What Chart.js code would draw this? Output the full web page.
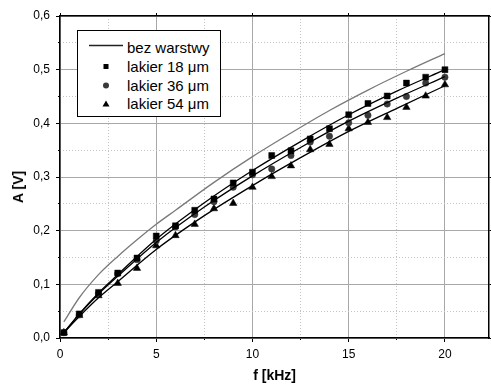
<!DOCTYPE html>
<html>
<head>
<meta charset="utf-8">
<script src="https://cdn.jsdelivr.net/npm/chart.js@4.4.0/dist/chart.umd.min.js"></script>
<style>
  body { margin: 0; background: #fff; }
  #wrap { position: relative; width: 491px; height: 388px; overflow: hidden; }
  .ytitle {
    position: absolute; left: 18px; top: 187px;
    transform: translate(-50%, -50%) rotate(-90deg);
    font: bold 14px "Liberation Sans", Arial, sans-serif; white-space: nowrap;
  }
  .legend {
    position: absolute; left: 77px; top: 30px; width: 142px; height: 85px;
    border: 1px solid #000; background: #fff;
    font: 15px "Liberation Sans", Arial, sans-serif;
  }
  .row { position: absolute; left: 0; width: 142px; height: 19px; line-height: 19px; }
  .row svg { position: absolute; left: 0; top: 0; }
  .row span { position: absolute; left: 49px; top: 0; white-space: nowrap; }
</style>
</head>
<body>
<div id="wrap">
  <!-- canvas a bit wider than the frame so the right axis sits on the edge -->
  <canvas id="chart" width="494" height="388"></canvas>
  <div class="ytitle">A [V]</div>
  <!-- legenda -->
  <div class="legend">
    <div class="row" style="top:7px">
      <svg width="48" height="19"><line x1="11" y1="7.5" x2="45" y2="7.5" stroke="#222" stroke-width="1.3"/></svg>
      <span>bez warstwy</span>
    </div>
    <div class="row" style="top:26px">
      <svg width="48" height="19"><rect x="25.5" y="7" width="5" height="5" fill="#000"/></svg>
      <span>lakier 18 μm</span>
    </div>
    <div class="row" style="top:45px">
      <svg width="48" height="19"><circle cx="28" cy="9.5" r="3" fill="#3a3a3a"/></svg>
      <span>lakier 36 μm</span>
    </div>
    <div class="row" style="top:63px">
      <svg width="48" height="19"><polygon points="28,6.5 31.5,12.5 24.5,12.5" fill="#000"/></svg>
      <span>lakier 54 μm</span>
    </div>
  </div>
</div>

<script>
// pomiary
const freq = [0.2, 1, 2, 3, 4, 5, 6, 7, 8, 9, 10, 11, 12, 13, 14, 15, 16, 17, 18, 19, 20];
const lakier18 = [0.01, 0.045, 0.085, 0.121, 0.149, 0.19, 0.209, 0.238, 0.259, 0.289, 0.309, 0.34, 0.349, 0.371, 0.39, 0.416, 0.437, 0.451, 0.475, 0.486, 0.5];
const lakier36 = [0.01, 0.043, 0.083, 0.12, 0.146, 0.181, 0.207, 0.23, 0.254, 0.281, 0.304, 0.315, 0.34, 0.365, 0.376, 0.401, 0.415, 0.436, 0.45, 0.475, 0.486];
const lakier54 = [0.01, 0.042, 0.079, 0.102, 0.13, 0.172, 0.191, 0.212, 0.241, 0.251, 0.281, 0.301, 0.321, 0.351, 0.361, 0.39, 0.402, 0.411, 0.43, 0.451, 0.472];

// krzywe dopasowania
const fitFreq = [0.2, 1, 2, 3, 5, 7.5, 10, 12.5, 15, 17.5, 20];
const fit18 = [0.01, 0.045, 0.084, 0.118, 0.184, 0.252, 0.312, 0.366, 0.416, 0.46, 0.5];
const fit36 = [0.01, 0.044, 0.082, 0.115, 0.178, 0.244, 0.302, 0.355, 0.404, 0.447, 0.487];
const fit54 = [0.01, 0.04, 0.075, 0.105, 0.165, 0.228, 0.284, 0.336, 0.385, 0.428, 0.47];

// bez warstwy
const bezFreq = [0.2, 1, 2, 3, 4, 5, 6, 8, 10, 12, 14, 16, 18, 20];
const bezWarstwy = [0.03, 0.075, 0.118, 0.152, 0.183, 0.212, 0.238, 0.29, 0.338, 0.382, 0.424, 0.462, 0.497, 0.53];

// osie
const xMax = 22.3;
const xMajorTicks = [0, 5, 10, 15, 20];
const xMinorTicks = [2.5, 7.5, 12.5, 17.5];
const yMajorTicks = [0, 0.1, 0.2, 0.3, 0.4, 0.5, 0.6];
const yMinorTicks = [0.05, 0.15, 0.25, 0.35, 0.45, 0.55];

const FONT = "'Liberation Sans', Arial, sans-serif";

function pts(xs, ys) {
  return xs.map((x, i) => ({ x: x, y: ys[i] }));
}

function fixTicks(list) {
  return (scale) => { scale.ticks = list.map(v => ({ value: v })); };
}

const fitLine = (data) => ({
  type: 'line', data: data, borderColor: '#000', borderWidth: 1.3,
  pointRadius: 0, cubicInterpolationMode: 'monotone', fill: false
});

const markers = (data, style, radius, color) => ({
  type: 'line', data: data, showLine: false, pointStyle: style,
  pointRadius: radius, pointBackgroundColor: color, pointBorderColor: color,
  pointBorderWidth: 0.5
});

new Chart(document.getElementById('chart'), {
  type: 'line',
  data: {
    datasets: [
      {
        label: 'bez warstwy', data: pts(bezFreq, bezWarstwy), borderColor: '#7a7a7a',
        borderWidth: 1.3, pointRadius: 0, cubicInterpolationMode: 'monotone', fill: false
      },
      fitLine(pts(fitFreq, fit18)),
      fitLine(pts(fitFreq, fit36)),
      fitLine(pts(fitFreq, fit54)),
      markers(pts(freq, lakier18), 'rect', 4.2, '#000'),
      markers(pts(freq, lakier36), 'circle', 3.2, '#3a3a3a'),
      markers(pts(freq, lakier54), 'triangle', 4.3, '#000')
    ]
  },
  options: {
    responsive: false,
    devicePixelRatio: 1,
    animation: false,
    layout: { padding: 0 },
    plugins: { legend: { display: false }, tooltip: { enabled: false } },
    scales: {
      x: {
        type: 'linear', position: 'bottom', weight: 1, min: 0, max: xMax,
        afterBuildTicks: fixTicks(xMajorTicks),
        afterFit: (s) => { s.height = 50; },
        grid: { color: '#a8a8a8', lineWidth: 1, tickColor: '#000', tickLength: 4 },
        border: { color: '#000', width: 1.5 },
        ticks: { color: '#000', font: { family: FONT, size: 12 }, padding: 5, maxRotation: 0 },
        title: {
          display: true, text: 'f [kHz]', color: '#000',
          font: { family: FONT, size: 14, weight: 'bold' }, padding: { top: 0, bottom: 3 }
        }
      },
      xMinor: {
        type: 'linear', axis: 'x', position: 'bottom', weight: 0, min: 0, max: xMax,
        afterBuildTicks: fixTicks(xMinorTicks),
        afterFit: (s) => { s.height = 0; },
        grid: { color: '#c4c4c4', lineWidth: 1, tickColor: '#000', tickLength: 2 },
        border: { display: false, dash: [1, 2] },
        ticks: { display: false }
      },
      xTop: {
        type: 'linear', axis: 'x', position: 'top', min: 0, max: xMax,
        afterBuildTicks: fixTicks(xMajorTicks),
        afterFit: (s) => { s.height = 16; },
        grid: { drawOnChartArea: false, tickColor: '#000', tickLength: 3 },
        border: { color: '#000', width: 1.5 },
        ticks: { display: false }
      },
      y: {
        type: 'linear', position: 'left', weight: 1, min: 0, max: 0.6,
        afterBuildTicks: fixTicks(yMajorTicks),
        afterFit: (s) => { s.width = 60; },
        grid: { color: '#a8a8a8', lineWidth: 1, tickColor: '#000', tickLength: 4 },
        border: { color: '#000', width: 1.5 },
        ticks: {
          color: '#000', font: { family: FONT, size: 12 }, padding: 6,
          callback: (v) => v.toFixed(1).replace('.', ',')
        }
      },
      yMinor: {
        type: 'linear', axis: 'y', position: 'left', weight: 0, min: 0, max: 0.6,
        afterBuildTicks: fixTicks(yMinorTicks),
        afterFit: (s) => { s.width = 0; },
        grid: { color: '#c4c4c4', lineWidth: 1, tickColor: '#000', tickLength: 2 },
        border: { display: false, dash: [1, 2] },
        ticks: { display: false }
      },
      yRight: {
        type: 'linear', axis: 'y', position: 'right', min: 0, max: 0.6,
        afterBuildTicks: fixTicks(yMajorTicks),
        afterFit: (s) => { s.width = 1; },
        grid: { drawOnChartArea: false, tickColor: '#000', tickLength: 3 },
        border: { color: '#000', width: 1.5 },
        ticks: { display: false }
      }
    }
  }
});
</script>
</body>
</html>
